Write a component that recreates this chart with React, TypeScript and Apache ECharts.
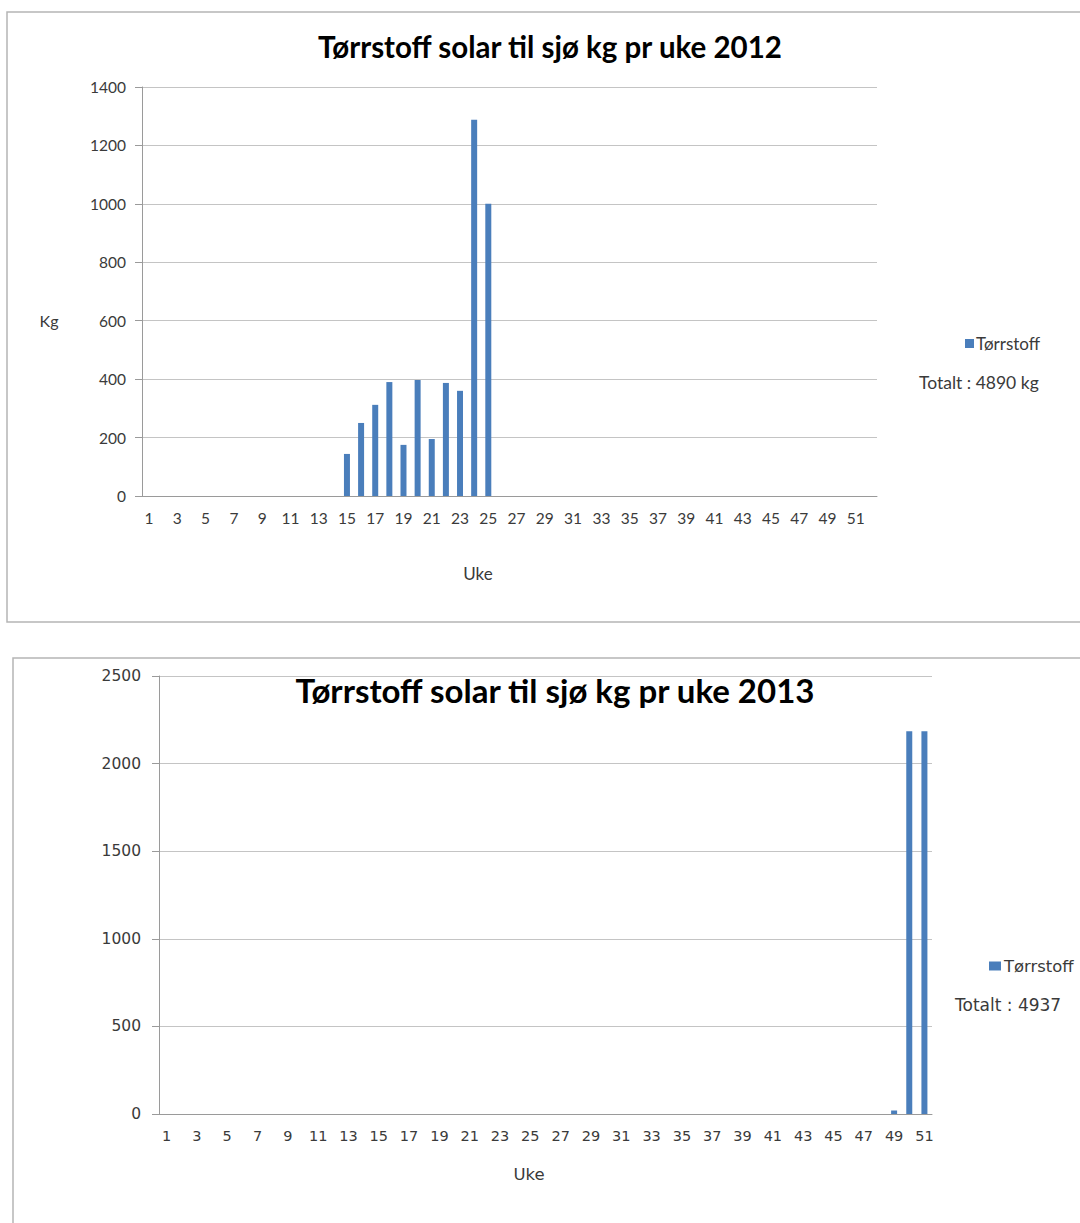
import React, { useEffect, useRef } from "react";
import * as echarts from "echarts";

const weeks2012 = Array.from({ length: 52 }, (_, i) => String(i + 1));
const weeks2013 = Array.from({ length: 51 }, (_, i) => String(i + 1));

// 2012: non-zero weeks 15..25
const values2012 = [
  0, 0, 0, 0, 0, 0, 0, 0, 0, 0, 0, 0, 0, 0,
  144, 250, 312, 390, 175, 397, 195, 387, 360, 1288, 1000,
  0, 0, 0, 0, 0, 0, 0, 0, 0, 0, 0, 0, 0, 0, 0, 0, 0, 0, 0, 0, 0, 0, 0, 0, 0, 0, 0,
];
// 2013: non-zero weeks 49..51
const values2013 = [
  0, 0, 0, 0, 0, 0, 0, 0, 0, 0, 0, 0, 0, 0, 0, 0, 0, 0, 0, 0,
  0, 0, 0, 0, 0, 0, 0, 0, 0, 0, 0, 0, 0, 0, 0, 0, 0, 0, 0, 0,
  0, 0, 0, 0, 0, 0, 0, 0, 20, 2185, 2185,
];

const title2012 = "Tørrstoff solar til sjø kg pr uke 2012";
const title2013 = "Tørrstoff solar til sjø kg pr uke 2013";
const seriesName = "Tørrstoff";
const total2012 = "Totalt : 4890 kg";
const total2013 = "Totalt : 4937";

const BLUE = "#4a7ebb";
const AXIS = "#9a9a9a";
const GRID = "#c4c4c4";
const F1 = "Lato";
const F2 = "DejaVu Sans";
const TXT = "#3a3a3a";

export default function App() {
  const ref = useRef<HTMLDivElement>(null);
  useEffect(() => {
    if (!ref.current) return;
    const chart = echarts.init(ref.current, undefined, { renderer: "svg" });
    const plain = (v: number) => String(v);
    chart.setOption({
      animation: false,
      backgroundColor: "#fff",
      grid: [
        { left: 142, top: 87, width: 735, height: 409 },
        { left: 159, top: 676, width: 773, height: 438 },
      ],
      legend: [
        {
          data: [seriesName],
          left: 965,
          top: 335,
          icon: "rect",
          itemWidth: 9,
          itemHeight: 9,
          padding: 0,
          textStyle: { fontFamily: F1, fontSize: 17, color: TXT, padding: [0, 0, 0, -3] },
          selectedMode: false,
        },
        {
          data: [seriesName],
          left: 989,
          top: 958,
          icon: "rect",
          itemWidth: 12,
          itemHeight: 9,
          padding: 0,
          textStyle: { fontFamily: F2, fontSize: 16.4, color: TXT, padding: [0, 0, 0, -2] },
          selectedMode: false,
        },
      ],
      xAxis: [
        {
          type: "category",
          gridIndex: 0,
          data: weeks2012,
          axisLine: { lineStyle: { color: AXIS } },
          axisTick: { interval: 0, length: 5, lineStyle: { color: AXIS } },
          axisLabel: { interval: 1, margin: 14, fontFamily: F1, fontSize: 15.5, color: TXT },
        },
        {
          type: "category",
          gridIndex: 1,
          data: weeks2013,
          axisLine: { lineStyle: { color: AXIS } },
          axisTick: { interval: 0, length: 5, lineStyle: { color: AXIS } },
          axisLabel: { interval: 1, margin: 14, fontFamily: F2, fontSize: 14.5, color: TXT },
        },
      ],
      yAxis: [
        {
          type: "value",
          gridIndex: 0,
          min: 0,
          max: 1400,
          interval: 200,
          axisLine: { show: true, lineStyle: { color: AXIS } },
          axisTick: { show: true, length: 7, lineStyle: { color: AXIS } },
          axisLabel: { margin: 16, fontFamily: F1, fontSize: 15.5, color: TXT, formatter: plain },
          splitLine: { lineStyle: { color: GRID } },
        },
        {
          type: "value",
          gridIndex: 1,
          min: 0,
          max: 2500,
          interval: 500,
          axisLine: { show: true, lineStyle: { color: AXIS } },
          axisTick: { show: true, length: 7, lineStyle: { color: AXIS } },
          axisLabel: { margin: 18, fontFamily: F2, fontSize: 15.5, color: TXT, formatter: plain },
          splitLine: { lineStyle: { color: GRID } },
        },
      ],
      series: [
        {
          name: seriesName,
          type: "bar",
          xAxisIndex: 0,
          yAxisIndex: 0,
          data: values2012,
          barWidth: 6,
          itemStyle: { color: BLUE },
        },
        {
          name: seriesName,
          type: "bar",
          xAxisIndex: 1,
          yAxisIndex: 1,
          data: values2013,
          barWidth: 6,
          itemStyle: { color: BLUE },
        },
      ],
      graphic: [
        {
          type: "rect",
          z: -1,
          shape: { x: 7, y: 12, width: 1100, height: 610 },
          style: { fill: "none", stroke: "#b5b5b5", lineWidth: 1.5 },
        },
        {
          type: "rect",
          z: -1,
          shape: { x: 13, y: 658, width: 1100, height: 620 },
          style: { fill: "none", stroke: "#b5b5b5", lineWidth: 1.5 },
        },
        {
          type: "text",
          x: 550,
          y: 46,
          style: {
            text: title2012,
            fontFamily: F1,
            fontWeight: "bold",
            fontSize: 29.5,
            fill: "#000",
            align: "center",
            verticalAlign: "middle",
          },
        },
        {
          type: "text",
          x: 555,
          y: 690,
          style: {
            text: title2013,
            fontFamily: F1,
            fontWeight: "bold",
            fontSize: 33,
            fill: "#000",
            align: "center",
            verticalAlign: "middle",
          },
        },
        {
          type: "text",
          x: 49,
          y: 320,
          style: { text: "Kg", fontFamily: F1, fontSize: 16, fill: TXT, align: "center", verticalAlign: "middle" },
        },
        {
          type: "text",
          x: 478,
          y: 573,
          style: { text: "Uke", fontFamily: F1, fontSize: 17, fill: TXT, align: "center", verticalAlign: "middle" },
        },
        {
          type: "text",
          x: 529,
          y: 1174,
          style: { text: "Uke", fontFamily: F2, fontSize: 16.5, fill: TXT, align: "center", verticalAlign: "middle" },
        },
        {
          type: "text",
          x: 919,
          y: 382,
          style: { text: total2012, fontFamily: F1, fontSize: 17.5, fill: TXT, align: "left", verticalAlign: "middle" },
        },
        {
          type: "text",
          x: 955,
          y: 1005,
          style: { text: total2013, fontFamily: F2, fontSize: 17, fill: TXT, align: "left", verticalAlign: "middle" },
        },
      ],
    });
    return () => chart.dispose();
  }, []);
  return (
    <div
      ref={ref}
      style={{ position: "absolute", left: 0, top: 0, width: 1080, height: 1223 }}
    />
  );
}
